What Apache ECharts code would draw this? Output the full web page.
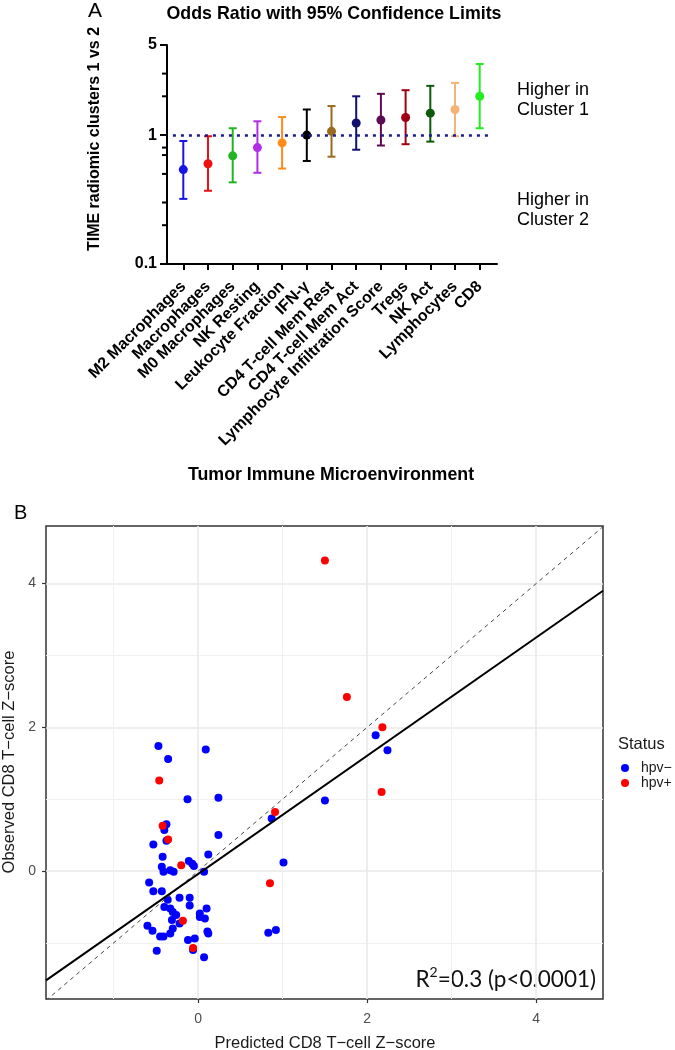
<!DOCTYPE html>
<html><head><meta charset="utf-8">
<script src="https://cdn.jsdelivr.net/npm/echarts@6.0.0/dist/echarts.min.js"></script>
<style>html,body{margin:0;padding:0;background:#fff}#chart{width:675px;height:1050px}</style>
</head><body><div id="chart"></div>
<script>
// ---------- Panel A data ----------
const categories = ['M2 Macrophages','Macrophages','M0 Macrophages','NK Resting','Leukocyte Fraction','IFN-\u03b3','CD4 T-cell Mem Rest','CD4 T-cell Mem Act','Lymphocyte Infiltration Score','Tregs','NK Act','Lymphocytes','CD8'];
const oddsRatio = [0.54,0.60,0.69,0.80,0.87,1.00,1.07,1.24,1.31,1.37,1.48,1.58,2.00];
const ciLower   = [0.32,0.37,0.43,0.51,0.55,0.63,0.68,0.77,0.83,0.85,0.89,0.98,1.13];
const ciUpper   = [0.90,0.98,1.13,1.28,1.38,1.58,1.68,2.00,2.09,2.23,2.41,2.54,3.56];
const catColors = ['#1515e6','#ee1111','#22b422','#b22ee6','#ff8c1a','#000000','#9a6a1e','#10106e','#5e0a55','#a00010','#0a5a0a','#f4b478','#22ee22'];
const aMinorTicks = [0.2,0.3,0.5,0.7,0.8,2,3];
const refOR = 1;

// ---------- Panel B data ----------
const hpvNeg = [[-0.47,1.74],[-0.355,1.56],[0.09,1.69],[-0.126,1.00],[0.24,1.02],[1.50,0.98],[2.10,1.89],[2.24,1.68],[0.87,0.73],[-0.375,0.65],[-0.40,0.57],[-0.375,0.42],[0.24,0.50],[-0.53,0.37],[0.12,0.23],[-0.42,0.20],[-0.11,0.14],[-0.07,0.10],[-0.05,0.07],[1.01,0.12],[-0.43,0.06],[-0.41,-0.01],[-0.33,0.01],[-0.29,-0.01],[0.07,-0.01],[-0.58,-0.16],[-0.53,-0.28],[-0.43,-0.28],[-0.22,-0.37],[-0.10,-0.37],[-0.36,-0.40],[-0.40,-0.50],[-0.33,-0.52],[-0.10,-0.48],[0.10,-0.52],[-0.30,-0.57],[-0.26,-0.61],[-0.22,-0.73],[-0.31,-0.68],[0.02,-0.59],[0.02,-0.64],[0.08,-0.66],[-0.60,-0.76],[-0.54,-0.83],[-0.33,-0.87],[-0.30,-0.80],[-0.45,-0.91],[-0.41,-0.91],[0.11,-0.84],[0.12,-0.87],[0.83,-0.86],[0.92,-0.82],[-0.12,-0.96],[-0.04,-0.94],[-0.06,-1.10],[-0.49,-1.11],[0.07,-1.20]];
const hpvPos = [[1.50,4.32],[1.76,2.42],[2.18,2.00],[2.17,1.10],[-0.46,1.26],[0.91,0.82],[-0.42,0.63],[-0.355,0.44],[-0.20,0.08],[0.85,-0.17],[-0.18,-0.69],[-0.06,-1.07]];
const identityLine = [[-1.8,-1.8],[4.8,4.8]];
const regressionLine = [[-1.8,-1.52],[4.79,3.90]];
const bMajorTicks = [0,2,4];
const bMinorTicks = [-1,1,3];

const FONT = '"Liberation Sans", Arial, sans-serif';
const catIdx = categories.map((c,i)=>i);
const X_MIN_A = -0.66, X_MAX_A = 12.7;

const chart = echarts.init(document.getElementById('chart'), null, {renderer:'canvas'});

const option = {
  animation: false,
  backgroundColor: '#ffffff',
  grid: [
    {left:167, top:45, width:330, height:219, containLabel:false, outerBoundsMode:'none'},
    {left:46, top:526, width:557, height:473, containLabel:false, outerBoundsMode:'none', show:true, borderColor:'#333333', borderWidth:1.5, backgroundColor:'transparent'}
  ],
  xAxis: [
    {gridIndex:0, type:'value', min:X_MIN_A, max:X_MAX_A, position:'bottom',
      axisLine:{show:true, onZero:false, lineStyle:{color:'#000', width:2}},
      axisTick:{show:true, length:6, customValues:catIdx, lineStyle:{color:'#000', width:2}},
      axisLabel:{show:true, customValues:catIdx, formatter:(v)=>categories[Math.round(v)], rotate:45, margin:20,
        fontFamily:FONT, fontWeight:'bold', fontSize:16, color:'#000'},
      splitLine:{show:false}},
    {gridIndex:1, type:'value', min:-1.8, max:4.79, position:'bottom',
      axisLine:{show:false, onZero:false},
      axisTick:{show:true, length:4, customValues:bMajorTicks, lineStyle:{color:'#333', width:1.2}},
      axisLabel:{show:true, customValues:bMajorTicks, color:'#4d4d4d', fontSize:14, fontFamily:FONT, margin:13},
      splitLine:{show:true, lineStyle:{color:'#e9e9e9', width:1.6}}},
    {gridIndex:1, type:'value', min:-1.8, max:4.79, position:'bottom',
      axisLine:{show:false, onZero:false},
      axisTick:{show:false, customValues:bMinorTicks},
      axisLabel:{show:false},
      splitLine:{show:true, lineStyle:{color:'#f0f0f0', width:1}}}
  ],
  yAxis: [
    {gridIndex:0, type:'log', logBase:10, min:0.1, max:5, position:'left',
      axisLine:{show:true, onZero:false, lineStyle:{color:'#000', width:2}},
      axisTick:{show:true, length:7, lineStyle:{color:'#000', width:2}},
      axisLabel:{show:true, margin:10, fontFamily:FONT, fontWeight:'bold', fontSize:16, color:'#000'},
      splitLine:{show:false}},
    {gridIndex:1, type:'value', min:-1.78, max:4.8, position:'left',
      axisLine:{show:false, onZero:false},
      axisTick:{show:true, length:4, customValues:bMajorTicks, lineStyle:{color:'#333', width:1.2}},
      axisLabel:{show:true, customValues:bMajorTicks, color:'#4d4d4d', fontSize:14, fontFamily:FONT, margin:10},
      splitLine:{show:true, lineStyle:{color:'#e9e9e9', width:1.6}}},
    {gridIndex:1, type:'value', min:-1.78, max:4.8, position:'left',
      axisLine:{show:false, onZero:false},
      axisTick:{show:false, customValues:bMinorTicks},
      axisLabel:{show:false},
      splitLine:{show:true, lineStyle:{color:'#f0f0f0', width:1}}}
  ],
  legend: {
    show:true, orient:'vertical', left:621, top:761, padding:0,
    itemWidth:8, itemHeight:8, itemGap:1, icon:'circle',
    data:['hpv\u2212','hpv+'],
    textStyle:{fontFamily:FONT, fontSize:14, color:'#1a1a1a', lineHeight:14, padding:[0,0,0,7]},
    selectedMode:false
  },
  series: [
    {type:'custom', name:'minorTicks', xAxisIndex:0, yAxisIndex:0, silent:true, z:4, clip:false,
      data: aMinorTicks.map(v=>[X_MIN_A, v]),
      encode:{x:0, y:1},
      renderItem:(params, api)=>{
        const p = api.coord([X_MIN_A, api.value(1)]);
        return {type:'group', children:[
          {type:'line', shape:{x1:p[0]-5, y1:p[1], x2:p[0], y2:p[1]}, style:{stroke:'#000', lineWidth:2, fill:null}}
        ]};
      }},
    {type:'custom', name:'ci', xAxisIndex:0, yAxisIndex:0, silent:true, z:2,
      data: categories.map((c,i)=>[i, ciLower[i], ciUpper[i]]),
      encode:{x:0, y:[1,2]},
      renderItem:(params, api)=>{
        const x = api.value(0);
        const lo = api.coord([x, api.value(1)]);
        const hi = api.coord([x, api.value(2)]);
        const col = catColors[params.dataIndex];
        const hw = 4;
        const st = {stroke:col, lineWidth:2, fill:null};
        return {type:'group', children:[
          {type:'line', shape:{x1:lo[0], y1:lo[1], x2:hi[0], y2:hi[1]}, style:st},
          {type:'line', shape:{x1:lo[0]-hw, y1:lo[1], x2:lo[0]+hw, y2:lo[1]}, style:st},
          {type:'line', shape:{x1:hi[0]-hw, y1:hi[1], x2:hi[0]+hw, y2:hi[1]}, style:st}
        ]};
      },
      markLine:{silent:true, symbol:'none', label:{show:false},
        lineStyle:{type:[3,5], color:'#1b1b8f', width:2.5},
        data:[[{coord:[-0.42, refOR]},{coord:[12.42, refOR]}]]}},
    {type:'scatter', name:'OR', xAxisIndex:0, yAxisIndex:0, symbolSize:9, silent:true, z:3,
      data: oddsRatio.map((v,i)=>({value:[i, v], itemStyle:{color:catColors[i], opacity:1}}))},
    {type:'scatter', name:'hpv\u2212', xAxisIndex:1, yAxisIndex:1, symbolSize:8, data:hpvNeg,
      itemStyle:{color:'#0000ff', opacity:1}},
    {type:'scatter', name:'hpv+', xAxisIndex:1, yAxisIndex:1, symbolSize:8, data:hpvPos,
      itemStyle:{color:'#ff0000', opacity:1}},
    {type:'line', name:'identity', xAxisIndex:1, yAxisIndex:1, data:identityLine, showSymbol:false, symbol:'none', clip:true, silent:true,
      lineStyle:{color:'#444', width:1, type:[4,4]}},
    {type:'line', name:'regression', xAxisIndex:1, yAxisIndex:1, data:regressionLine, showSymbol:false, symbol:'none', clip:true, silent:true,
      lineStyle:{color:'#000', width:2}}
  ],
  graphic: [
    {type:'text', x:88, y:1, style:{text:'A', font:'21px '+FONT, fill:'#000'}},
    {type:'text', x:334, y:14, style:{text:'Odds Ratio with 95% Confidence Limits', font:'bold 17.8px '+FONT, fill:'#000', textAlign:'center', textVerticalAlign:'middle'}},
    {type:'text', x:95, y:139, rotation:Math.PI/2, style:{text:'TIME radiomic clusters 1 vs 2', font:'bold 16px '+FONT, fill:'#000', textAlign:'center', textVerticalAlign:'middle'}},
    {type:'text', x:331, y:475, style:{text:'Tumor Immune Microenvironment', font:'bold 17.8px '+FONT, fill:'#000', textAlign:'center', textVerticalAlign:'middle'}},
    {type:'text', x:517, y:80, style:{text:'Higher in\nCluster 1', font:'18px '+FONT, lineHeight:20, fill:'#000', textAlign:'left', textVerticalAlign:'top'}},
    {type:'text', x:517, y:190, style:{text:'Higher in\nCluster 2', font:'18px '+FONT, lineHeight:20, fill:'#000', textAlign:'left', textVerticalAlign:'top'}},
    {type:'text', x:14, y:503, style:{text:'B', font:'20px '+FONT, fill:'#000'}},
    {type:'text', x:9, y:762, rotation:Math.PI/2, style:{text:'Observed CD8 T\u2212cell Z\u2212score', font:'16.5px '+FONT, fill:'#1a1a1a', textAlign:'center', textVerticalAlign:'middle'}},
    {type:'text', x:325, y:1043, style:{text:'Predicted CD8 T\u2212cell Z\u2212score', font:'16.5px '+FONT, fill:'#1a1a1a', textAlign:'center', textVerticalAlign:'middle'}},
    {type:'text', x:618, y:744, style:{text:'Status', font:'16.5px '+FONT, fill:'#1a1a1a', textAlign:'left', textVerticalAlign:'middle'}},
    {type:'text', x:596, y:978, style:{
      text:'{a|R}{s|2}{a|=0.3 (p<0.0001)}', textAlign:'right', textVerticalAlign:'middle',
      rich:{
        a:{fontFamily:'Lato, "Open Sans", sans-serif', fontSize:22.5, fill:'#111', lineHeight:26, verticalAlign:'bottom'},
        s:{fontFamily:'Lato, "Open Sans", sans-serif', fontSize:14, fill:'#111', lineHeight:26, verticalAlign:'top'}
      }}}
  ]
};
chart.setOption(option);
</script>
</body></html>
